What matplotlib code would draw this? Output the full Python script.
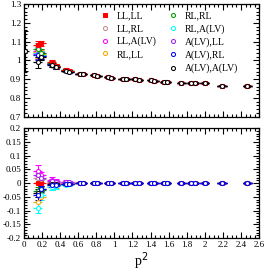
import matplotlib

matplotlib.use("Agg")
import matplotlib.pyplot as plt
from matplotlib.ticker import MultipleLocator

plt.rcParams["font.family"] = ["Liberation Serif", "DejaVu Serif"]

# momentum points (shared by every series)
p2 = [0.15, 0.19, 0.31, 0.35, 0.46, 0.50, 0.62, 0.65, 0.78, 0.81, 0.93, 0.96,
      1.09, 1.13, 1.23, 1.27, 1.41, 1.44, 1.55, 1.58, 1.74, 1.85, 1.89, 2.00,
      2.19, 2.47]

labels = ["LL,LL", "LL,RL", "LL,A(LV)", "RL,LL", "RL,RL", "RL,A(LV)",
          "A(LV),LL", "A(LV),RL", "A(LV),A(LV)"]
colors = ["#ff0000", "#bc8f8f", "#ff00ff", "#ffa500", "#00a000", "#00ffff",
          "#a020f0", "#0000ff", "#000000"]

# top panel: ratio, first six points per series + common tail
top_tail = [0.930, 0.928, 0.920, 0.915, 0.910, 0.907, 0.902, 0.900, 0.900, 0.897,
            0.893, 0.891, 0.887, 0.886, 0.882, 0.881, 0.879, 0.878, 0.866, 0.862]
top_tail_err = [0.005] * 20
top_head = {
    "LL,LL":       [1.080, 1.090, 0.990, 0.972, 0.950, 0.944],
    "LL,RL":       [1.040, 1.030, 0.982, 0.968, 0.946, 0.941],
    "LL,A(LV)":    [1.050, 1.040, 0.985, 0.970, 0.947, 0.942],
    "RL,LL":       [1.045, 1.035, 0.983, 0.969, 0.946, 0.941],
    "RL,RL":       [1.060, 1.040, 0.986, 0.970, 0.947, 0.942],
    "RL,A(LV)":    [1.040, 1.030, 0.980, 0.967, 0.946, 0.941],
    "A(LV),LL":    [1.035, 1.025, 0.980, 0.967, 0.945, 0.940],
    "A(LV),RL":    [1.030, 1.025, 0.979, 0.966, 0.945, 0.940],
    "A(LV),A(LV)": [0.990, 1.020, 0.975, 0.965, 0.945, 0.940],
}
top_head_err = {
    "LL,LL":       [0.025, 0.015, 0.012, 0.010, 0.008, 0.008],
    "LL,RL":       [0.030, 0.020, 0.012, 0.010, 0.008, 0.008],
    "LL,A(LV)":    [0.030, 0.020, 0.012, 0.010, 0.008, 0.008],
    "RL,LL":       [0.030, 0.020, 0.012, 0.010, 0.008, 0.008],
    "RL,RL":       [0.030, 0.020, 0.012, 0.010, 0.008, 0.008],
    "RL,A(LV)":    [0.030, 0.020, 0.012, 0.010, 0.008, 0.008],
    "A(LV),LL":    [0.030, 0.020, 0.012, 0.010, 0.008, 0.008],
    "A(LV),RL":    [0.030, 0.020, 0.012, 0.010, 0.008, 0.008],
    "A(LV),A(LV)": [0.030, 0.020, 0.012, 0.010, 0.008, 0.008],
}
# extra lowest-momentum point of the A(LV),A(LV) series
p2_low = [0.01]
top_low = [1.05]
top_low_err = [0.105]

# bottom panel: difference, first six points per series + common tail
bot_tail = [0.002, 0.001, 0.001, 0.000, 0.001, 0.000, 0.000, 0.000, 0.000, 0.000,
            0.000, 0.000, 0.000, 0.000, 0.000, 0.000, 0.000, 0.000, 0.000, 0.000]
bot_tail_err = [0.003] * 20
bot_head = {
    "LL,LL":       [0.000, 0.000, 0.000, 0.000, 0.000, 0.000],
    "LL,RL":       [0.020, 0.015, 0.005, 0.003, 0.002, 0.002],
    "LL,A(LV)":    [0.045, 0.030, 0.012, 0.008, 0.005, 0.004],
    "RL,LL":       [-0.070, -0.050, -0.015, -0.010, -0.005, -0.004],
    "RL,RL":       [-0.030, -0.025, -0.008, -0.006, -0.003, -0.002],
    "RL,A(LV)":    [-0.090, -0.045, -0.015, -0.012, -0.006, -0.005],
    "A(LV),LL":    [0.030, 0.020, 0.008, 0.005, 0.003, 0.003],
    "A(LV),RL":    [-0.045, -0.022, -0.008, -0.006, -0.003, -0.003],
    "A(LV),A(LV)": [-0.035, -0.020, -0.005, -0.004, -0.002, -0.002],
}
bot_head_err = {
    "LL,LL":       [0.000, 0.000, 0.000, 0.000, 0.000, 0.000],
    "LL,RL":       [0.015, 0.010, 0.008, 0.006, 0.004, 0.004],
    "LL,A(LV)":    [0.020, 0.012, 0.010, 0.008, 0.005, 0.005],
    "RL,LL":       [0.020, 0.012, 0.010, 0.008, 0.005, 0.005],
    "RL,RL":       [0.015, 0.010, 0.008, 0.006, 0.004, 0.004],
    "RL,A(LV)":    [0.020, 0.015, 0.010, 0.008, 0.005, 0.005],
    "A(LV),LL":    [0.015, 0.010, 0.008, 0.006, 0.004, 0.004],
    "A(LV),RL":    [0.015, 0.010, 0.008, 0.006, 0.004, 0.004],
    "A(LV),A(LV)": [0.015, 0.010, 0.008, 0.006, 0.004, 0.004],
}

XERR = 0.05
top_order = ["LL,RL", "LL,A(LV)", "RL,LL", "RL,A(LV)", "A(LV),LL", "A(LV),RL",
             "RL,RL", "LL,LL", "A(LV),A(LV)"]
bot_order = ["LL,LL", "RL,RL", "LL,RL", "RL,LL", "RL,A(LV)", "LL,A(LV)",
             "A(LV),LL", "A(LV),A(LV)", "A(LV),RL"]

fig = plt.figure(figsize=(2.66, 2.72), dpi=100)
ax_top = fig.add_axes([0.090, 0.571, 0.884, 0.414])
ax_bot = fig.add_axes([0.090, 0.125, 0.884, 0.404])


def marker_style(name):
    c = colors[labels.index(name)]
    filled = name == "LL,LL"
    return dict(marker="s" if filled else "o", color=c,
                mfc=c if filled else "white", mec=c,
                ms=2.8 if filled else 2.9, mew=0.75)


def draw(ax, name, x, y, yerr):
    c = colors[labels.index(name)]
    ax.errorbar(x, y, xerr=XERR, fmt="none", ecolor=c, elinewidth=0.9, capsize=0)
    ax.errorbar(x, y, yerr=yerr, ls="none", elinewidth=0.8, capsize=2.5,
                capthick=0.8, **marker_style(name))


handles = {}
for name in top_order:
    y = top_head[name] + top_tail
    e = top_head_err[name] + top_tail_err
    x = p2
    if name == "A(LV),A(LV)":
        x = p2_low + p2
        y = top_low + y
        e = top_low_err + e
    draw(ax_top, name, x, y, e)
    handles[name] = ax_top.plot([], [], ls="none", **marker_style(name))[0]

for name in bot_order:
    draw(ax_bot, name, p2, bot_head[name] + bot_tail, bot_head_err[name] + bot_tail_err)

legend_kw = dict(loc="upper left", frameon=False, fontsize=7, handlelength=1.0,
                 handletextpad=0.75, labelspacing=0.36, borderpad=0)
leg1 = ax_top.legend([handles[n] for n in labels[:4]], labels[:4],
                     bbox_to_anchor=(0.302, 0.975), **legend_kw)
ax_top.add_artist(leg1)
ax_top.legend([handles[n] for n in labels[4:]], labels[4:],
              bbox_to_anchor=(0.591, 0.975), **legend_kw)

for ax in (ax_top, ax_bot):
    ax.set_xlim(0, 2.6)
    ax.xaxis.set_major_locator(MultipleLocator(0.2))
    ax.xaxis.set_minor_locator(MultipleLocator(0.05))
    ax.tick_params(which="both", direction="in", top=True, right=True,
                   labelsize=6.5, pad=2, width=0.8)
    ax.tick_params(which="major", length=4)
    ax.tick_params(which="minor", length=2)
    for s in ax.spines.values():
        s.set_linewidth(0.9)

ax_top.set_ylim(0.7, 1.3)
ax_top.yaxis.set_minor_locator(MultipleLocator(0.02))
ax_top.set_yticks([0.7, 0.8, 0.9, 1.0, 1.1, 1.2, 1.3])
ax_top.set_yticklabels(["0.7", "0.8", "0.9", "1", "1.1", "1.2", "1.3"])
ax_top.tick_params(labelbottom=False)

ax_bot.set_ylim(-0.2, 0.2)
ax_bot.yaxis.set_minor_locator(MultipleLocator(0.01))
ax_bot.set_yticks([-0.2, -0.15, -0.1, -0.05, 0, 0.05, 0.1, 0.15, 0.2])
ax_bot.set_yticklabels(["-0.2", "-0.15", "-0.1", "-0.05", "0", "0.05", "0.1",
                        "0.15", "0.2"])
ax_bot.set_xticks([0, 0.2, 0.4, 0.6, 0.8, 1.0, 1.2, 1.4, 1.6, 1.8, 2.0, 2.2, 2.4, 2.6])
ax_bot.set_xticklabels(["0", "0.2", "0.4", "0.6", "0.8", "1", "1.2", "1.4", "1.6",
                        "1.8", "2", "2.2", "2.4", "2.6"])
ax_bot.set_xlabel("p$^2$", fontsize=10, labelpad=1)

fig.savefig("out.png", dpi=100)
